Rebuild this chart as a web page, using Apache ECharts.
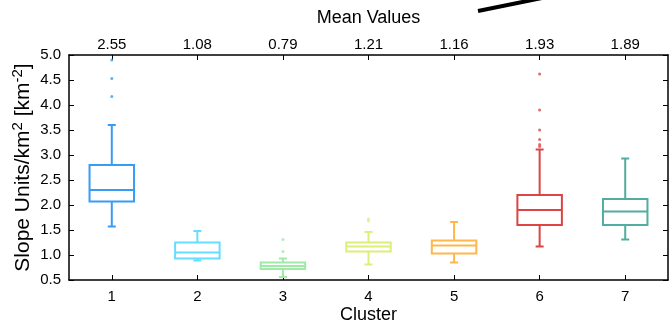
<!DOCTYPE html>
<html>
<head>
<meta charset="utf-8">
<script src="https://cdn.jsdelivr.net/npm/echarts@6/dist/echarts.min.js"></script>
<style>
html,body{margin:0;padding:0;background:#fff;overflow:hidden;}
#chart{width:671px;height:322px;}
</style>
</head>
<body>
<div id="chart"></div>
<script>
var categories = ['1','2','3','4','5','6','7'];
var meanValues = ['2.55','1.08','0.79','1.21','1.16','1.93','1.89'];
var whiskerLow  = [1.57, 0.89, 0.56, 0.81, 0.85, 1.17, 1.31];
var q1          = [2.07, 0.93, 0.72, 1.07, 1.03, 1.60, 1.60];
var median      = [2.30, 1.05, 0.78, 1.17, 1.19, 1.90, 1.87];
var q3          = [2.80, 1.25, 0.85, 1.25, 1.29, 2.20, 2.12];
var whiskerHigh = [3.60, 1.48, 0.93, 1.46, 1.66, 3.11, 2.93];
var outliers = [
  [0, 4.90], [0, 4.53], [0, 4.17],
  [2, 1.31], [2, 1.07],
  [3, 1.72], [3, 1.68],
  [5, 4.62], [5, 3.90], [5, 3.50], [5, 3.31], [5, 3.21], [5, 3.17]
];
var yTicks = [0.5, 5.0, 0.5]; // min, max, interval
var colors = ['#379cf5', '#66ddff', '#9eeaa6', '#ddee7a', '#ffb74d', '#dd4444', '#52ac9f'];

var boxData = categories.map(function (c, i) {
  return [i, whiskerLow[i], q1[i], median[i], q3[i], whiskerHigh[i]];
});

var chart = echarts.init(document.getElementById('chart'), null, {renderer: 'canvas'});
var axisLine = {show: true, lineStyle: {color: '#000', width: 1.5}};
var font = 'Liberation Sans, Arial, Helvetica, sans-serif';

function renderBox(params, api) {
  var i = api.value(0);
  var col = colors[i];
  var band = api.size([1, 0])[0];
  var w = band * 0.52;
  var cap = 8;
  var pLow = api.coord([i, api.value(1)]);
  var pQ1 = api.coord([i, api.value(2)]);
  var pMed = api.coord([i, api.value(3)]);
  var pQ3 = api.coord([i, api.value(4)]);
  var pHigh = api.coord([i, api.value(5)]);
  var x = pMed[0];
  var st = {stroke: col, lineWidth: 2, fill: null};
  return {
    type: 'group',
    children: [
      {type: 'line', shape: {x1: x, y1: pQ3[1], x2: x, y2: pHigh[1]}, style: st},
      {type: 'line', shape: {x1: x, y1: pQ1[1], x2: x, y2: pLow[1]}, style: st},
      {type: 'line', shape: {x1: x - cap/2, y1: pHigh[1], x2: x + cap/2, y2: pHigh[1]}, style: st},
      {type: 'line', shape: {x1: x - cap/2, y1: pLow[1], x2: x + cap/2, y2: pLow[1]}, style: st},
      {type: 'rect', shape: {x: x - w/2, y: pQ3[1], width: w, height: pQ1[1] - pQ3[1]}, style: {stroke: col, lineWidth: 2, fill: '#fff'}},
      {type: 'line', shape: {x1: x - w/2, y1: pMed[1], x2: x + w/2, y2: pMed[1]}, style: st}
    ]
  };
}

var option = {
  animation: false,
  backgroundColor: '#fff',
  textStyle: {fontFamily: font},
  grid: {left: 69, right: 3, top: 55, bottom: 42, containLabel: false, outerBoundsMode: 'none'},
  xAxis: [{
    type: 'category',
    data: categories,
    position: 'bottom',
    boundaryGap: true,
    axisLine: axisLine,
    axisTick: {show: true, inside: true, alignWithLabel: true, length: 5, lineStyle: {color: '#000', width: 1}},
    axisLabel: {color: '#000', fontSize: 15, margin: 9, fontFamily: font},
    name: 'Cluster',
    nameLocation: 'middle',
    nameGap: 26,
    nameMoveOverlap: false,
    nameTextStyle: {color: '#000', fontSize: 18, fontFamily: font},
    splitLine: {show: false}
  }, {
    type: 'category',
    data: meanValues,
    position: 'top',
    boundaryGap: true,
    axisLine: axisLine,
    axisTick: {show: true, inside: true, alignWithLabel: true, length: 5, lineStyle: {color: '#000', width: 1}},
    axisLabel: {color: '#000', fontSize: 15, margin: 3, fontFamily: font},
    name: 'Mean Values',
    nameLocation: 'middle',
    nameGap: 28,
    nameTextStyle: {color: '#000', fontSize: 18, fontFamily: font},
    splitLine: {show: false}
  }],
  yAxis: [{
    type: 'value',
    min: yTicks[0], max: yTicks[1], interval: yTicks[2],
    position: 'left',
    axisLine: axisLine,
    axisTick: {show: true, inside: true, length: 5, lineStyle: {color: '#000', width: 1}},
    axisLabel: {color: '#000', fontSize: 15, margin: 8, fontFamily: font, formatter: function (v) { return v.toFixed(1); }},
    splitLine: {show: false},
    name: '{n|Slope Units/km}{s|2}{n| [km}{s|-2}{n|]}',
    nameLocation: 'middle',
    nameRotate: 90,
    nameGap: 35,
    nameMoveOverlap: false,
    nameTextStyle: {
      color: '#000',
      rich: {
        n: {fontSize: 21, fontFamily: font, color: '#000', lineHeight: 24, verticalAlign: 'bottom'},
        s: {fontSize: 15, fontFamily: font, color: '#000', lineHeight: 24, verticalAlign: 'top'}
      }
    }
  }, {
    type: 'value',
    min: yTicks[0], max: yTicks[1], interval: yTicks[2],
    position: 'right',
    axisLine: axisLine,
    axisTick: {show: true, inside: true, length: 5, lineStyle: {color: '#000', width: 1}},
    axisLabel: {show: false},
    splitLine: {show: false}
  }],
  graphic: [{
    type: 'line',
    shape: {x1: 478, y1: 11, x2: 542, y2: -2},
    style: {stroke: '#000', lineWidth: 4}
  }],
  series: [{
    type: 'custom',
    xAxisIndex: 0,
    yAxisIndex: 0,
    renderItem: renderBox,
    encode: {x: 0, y: [1, 2, 3, 4, 5]},
    data: boxData,
    z: 2
  }, {
    type: 'scatter',
    xAxisIndex: 0,
    yAxisIndex: 0,
    symbol: 'circle',
    symbolSize: 3,
    clip: false,
    data: outliers,
    itemStyle: {color: function (p) { return colors[p.data[0]]; }},
    z: 3
  }]
};
chart.setOption(option);
</script>
</body>
</html>
